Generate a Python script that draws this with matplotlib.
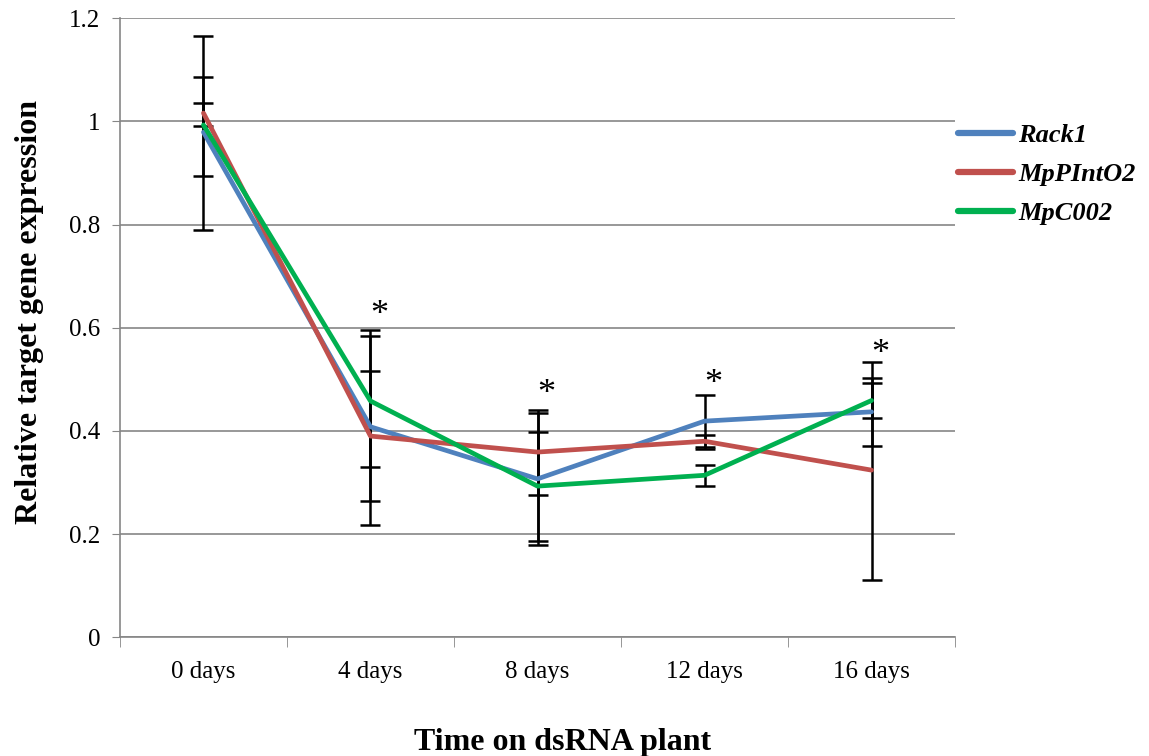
import matplotlib
matplotlib.use("Agg")
import matplotlib.pyplot as plt
from matplotlib.ticker import FuncFormatter, FixedLocator

days = ["0 days", "4 days", "8 days", "12 days", "16 days"]

rack1 = [0.979, 0.408, 0.307, 0.419, 0.437]
rack1_lo = [0.895, 0.218, 0.179, 0.364, 0.370]
rack1_hi = [1.085, 0.595, 0.435, 0.469, 0.502]

mppinto2 = [1.016, 0.390, 0.359, 0.380, 0.324]
mppinto2_lo = [0.790, 0.264, 0.275, 0.368, 0.112]
mppinto2_hi = [1.165, 0.516, 0.4415, 0.392, 0.534]

mpc002 = [0.993, 0.458, 0.293, 0.314, 0.459]
mpc002_lo = [0.991, 0.330, 0.187, 0.294, 0.425]
mpc002_hi = [1.035, 0.584, 0.397, 0.333, 0.492]

stars_y = [None, 0.628, 0.476, 0.495, 0.553]

plt.rcParams['font.family'] = ['Liberation Serif', 'DejaVu Serif']

fig = plt.figure(figsize=(11.49, 7.56), dpi=100)
ax = fig.add_axes([0.1044, 0.157, 0.7268, 0.819])

x = list(range(len(days)))
series = [
    ("Rack1", rack1, rack1_lo, rack1_hi, "#4F81BD"),
    ("MpPIntO2", mppinto2, mppinto2_lo, mppinto2_hi, "#C0504D"),
    ("MpC002", mpc002, mpc002_lo, mpc002_hi, "#00B050"),
]

# error bars first, lines on top
for name, vals, lo, hi, col in series:
    err = [[v - l for v, l in zip(vals, lo)], [h - v for v, h in zip(vals, hi)]]
    ax.errorbar(x, vals, yerr=err, fmt="none", ecolor="black",
                elinewidth=1.8, capsize=7, capthick=1.8, zorder=2)
for name, vals, lo, hi, col in series:
    ax.plot(x, vals, color=col, lw=3.4, label=name, zorder=3,
            solid_capstyle="round", solid_joinstyle="round")

for xi, sy in zip(x, stars_y):
    if sy is not None:
        ax.text(xi + 0.05, sy - 0.005, "*", ha="center", va="center", fontsize=26)

ax.set_xlim(-0.5, 4.5)
ax.set_ylim(0, 1.2)
ax.set_yticks([0, 0.2, 0.4, 0.6, 0.8, 1.0, 1.2])
ax.yaxis.set_major_formatter(FuncFormatter(lambda v, p: ("%g" % round(v, 1))))
ax.set_xticks(x)
ax.set_xticklabels(days, fontsize=18)
ax.tick_params(axis="x", which="major", length=0, pad=17)
ax.xaxis.set_minor_locator(FixedLocator([-0.5, 0.5, 1.5, 2.5, 3.5, 4.5]))
ax.tick_params(axis="x", which="minor", length=7, color="#868686", direction="out")
ax.tick_params(axis="y", labelsize=18, length=6, color="#868686", pad=8)

ax.grid(axis="y", color="#868686", lw=1.2)
ax.set_axisbelow(True)
for s in ["top", "right"]:
    ax.spines[s].set_visible(False)
for s in ["left", "bottom"]:
    ax.spines[s].set_color("#868686")
    ax.spines[s].set_linewidth(1.2)

ax.set_ylabel("Relative target gene expression", fontsize=23, fontweight="bold")
ax.yaxis.set_label_coords(-0.091, 0.525)
fig.text(0.49, 0.008, "Time on dsRNA plant", ha="center", fontsize=23, fontweight="bold")

leg = ax.legend(loc="upper left", bbox_to_anchor=(1.003, 0.83), frameon=False,
                prop={"size": 19, "weight": "bold", "style": "italic"},
                handlelength=2.1, handletextpad=0.2, labelspacing=0.6,
                borderpad=0, borderaxespad=0)
for h in leg.get_lines():
    h.set_linewidth(4.5)

fig.savefig("out.png", dpi=100)
